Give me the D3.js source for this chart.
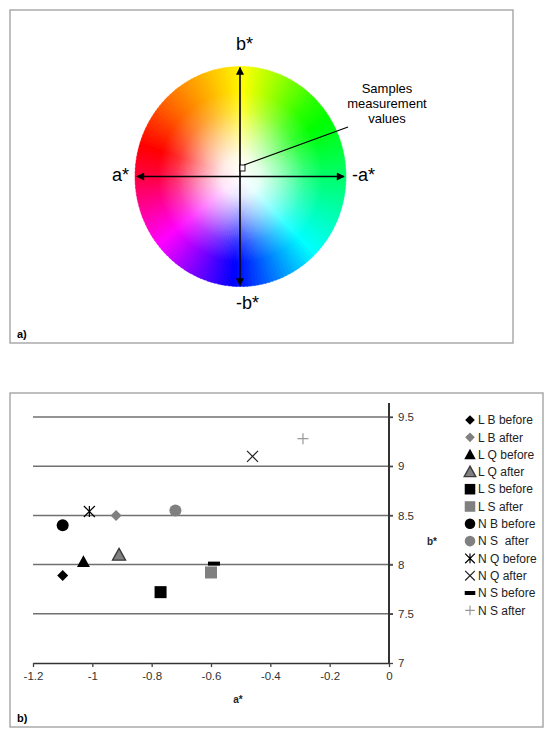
<!DOCTYPE html>
<html><head><meta charset="utf-8">
<script src="https://cdn.jsdelivr.net/npm/d3@7"></script>
<style>
body{margin:0;background:#fff}
svg{display:block;font-family:"Liberation Sans",Arial,sans-serif}
</style>
</head><body><div id="chart"></div>
<script>
// --- data ---
const seriesNames = ['L B before','L B after','L Q before','L Q after','L S before','L S after',
  'N B before','N S  after','N Q before','N Q after','N S before','N S after'];
const aValues = [-1.10,-0.92,-1.03,-0.91,-0.77,-0.60,-1.10,-0.72,-1.01,-0.46,-0.59,-0.29];
const bValues = [7.89,8.50,8.03,8.10,7.72,7.92,8.40,8.55,8.54,9.10,8.01,9.28];
const aTicks = [-1.2,-1,-0.8,-0.6,-0.4,-0.2,0];
const bTicks = [7,7.5,8,8.5,9,9.5];

// marker look per series (same order)
const GRAY = '#808080';
const markerStyle = [
  {shape:'diamond', fill:'#000'}, {shape:'diamond', fill:GRAY},
  {shape:'triangle', fill:'#000'}, {shape:'triangle', fill:GRAY, stroke:'#3a3a3a'},
  {shape:'square', fill:'#000'}, {shape:'square', fill:GRAY},
  {shape:'circle', fill:'#000'}, {shape:'circle', fill:GRAY},
  {shape:'star', stroke:'#000'}, {shape:'x', stroke:'#222'},
  {shape:'dash', fill:'#000'}, {shape:'plus', stroke:'#999'}
];

const W = 550, H = 736;
const svg = d3.select('#chart').append('svg').attr('width', W).attr('height', H);
const defs = svg.append('defs');

// ---------- panel a) colour wheel ----------
svg.append('rect').attr('x',10).attr('y',10).attr('width',503).attr('height',333)
  .attr('fill','none').attr('stroke','#aaa').attr('stroke-width',1.5);

const cx = 240.5, cy = 176.5, R = 105.5, Ry = 110;
const hue = d3.scaleLinear()
  .domain([0,45,90,135,180,225,270,315,360])
  .range([58,110,145,180,235,292,345,385,418]);

const wheel = svg.append('g').attr('transform',`translate(${cx},${cy}) scale(1,${Ry/R})`);
const arc = d3.arc().innerRadius(0).outerRadius(R);
const steps = d3.range(0,360,2);
wheel.selectAll('path.w').data(steps).enter().append('path')
  .attr('d', d => arc({startAngle:d*Math.PI/180, endAngle:(d+2.4)*Math.PI/180}))
  .attr('fill', d => d3.hsl(hue(d+1)%360,1,0.5))
  .attr('stroke', d => d3.hsl(hue(d+1)%360,1,0.5)).attr('stroke-width',0.4);

const rg = defs.append('radialGradient').attr('id','whiteCore');
[[0,1],[0.18,0.9],[0.4,0.55],[0.6,0.2],[0.78,0]].forEach(([o,a]) =>
  rg.append('stop').attr('offset',o).attr('stop-color','#fff').attr('stop-opacity',a));
wheel.append('circle').attr('r',R).attr('fill','url(#whiteCore)');

defs.append('marker').attr('id','arr').attr('viewBox','0 0 10 10').attr('refX',9).attr('refY',5)
  .attr('markerWidth',9).attr('markerHeight',8).attr('markerUnits','userSpaceOnUse')
  .attr('orient','auto-start-reverse')
  .append('path').attr('d','M0,0L10,5L0,10z').attr('fill','#000');

svg.append('line').attr('x1',cx-0.5).attr('x2',cx-0.5).attr('y1',cy-Ry+1).attr('y2',cy+Ry-1)
  .attr('stroke','#000').attr('stroke-width',1.6)
  .attr('marker-start','url(#arr)').attr('marker-end','url(#arr)');
svg.append('line').attr('x1',cx-R+2).attr('x2',cx+R-2).attr('y1',cy).attr('y2',cy)
  .attr('stroke','#000').attr('stroke-width',1.6)
  .attr('marker-start','url(#arr)').attr('marker-end','url(#arr)');

const axLab = [['b*',cx+4,50],['-b*',cx+7,309],['a*',cx-120,181],['-a*',cx+123,181]];
svg.selectAll('text.ax').data(axLab).enter().append('text')
  .attr('x',d=>d[1]).attr('y',d=>d[2]).attr('text-anchor','middle')
  .attr('font-size',18).attr('fill','#000').text(d=>d[0]);

svg.append('line').attr('x1',348).attr('y1',127).attr('x2',244).attr('y2',165)
  .attr('stroke','#000').attr('stroke-width',1.2);
svg.append('rect').attr('x',240).attr('y',165).attr('width',5).attr('height',6)
  .attr('fill','#fff').attr('stroke','#000').attr('stroke-width',0.9);
svg.append('text').attr('x',387).attr('y',93).attr('text-anchor','middle').attr('font-size',13)
  .selectAll('tspan').data(['Samples','measurement','values']).enter().append('tspan')
  .attr('x',387).attr('dy',(d,i)=>i?15:0).text(d=>d);

svg.append('text').attr('x',17).attr('y',338).attr('font-size',11).attr('font-weight','bold').text('a)');

// ---------- panel b) scatter ----------
svg.append('rect').attr('x',10).attr('y',393).attr('width',533).attr('height',334)
  .attr('fill','none').attr('stroke','#aaa').attr('stroke-width',1.5);

const x = d3.scaleLinear().domain([-1.2,0]).range([33,389]);
const y = d3.scaleLinear().domain([7,9.5]).range([663,417]);

svg.append('g').selectAll('line').data(bTicks.filter(v=>v>7)).enter().append('line')
  .attr('x1',x(-1.2)).attr('x2',x(0)+4).attr('y1',d=>y(d)).attr('y2',d=>y(d))
  .attr('stroke','#707070').attr('stroke-width',1.5);

const gx = svg.append('g').attr('transform',`translate(0,${y(7)})`)
  .call(d3.axisBottom(x).tickValues(aTicks).tickSize(4).tickSizeOuter(0).tickPadding(5).tickFormat(String));
const gy = svg.append('g').attr('transform',`translate(${x(0)},0)`)
  .call(d3.axisRight(y).tickValues(bTicks).tickSize(4).tickSizeOuter(0).tickPadding(5).tickFormat(String));
[gx,gy].forEach(g=>{
  g.selectAll('.tick line').attr('stroke','#444').attr('stroke-width',1.3);
  g.selectAll('.tick text').attr('font-size',11.5).attr('fill','#333').attr('font-family','Liberation Sans, Arial, sans-serif');
});
gx.select('.domain').attr('stroke','#333').attr('stroke-width',1.5);
gy.select('.domain').remove();
svg.append('line').attr('x1',x(0)).attr('x2',x(0)).attr('y1',y(7)+0.7).attr('y2',y(9.5)-14)
  .attr('stroke','#333').attr('stroke-width',2);

svg.append('text').attr('x',238).attr('y',703).attr('text-anchor','middle')
  .attr('font-size',10).attr('font-weight','bold').attr('fill','#222').text('a*');
svg.append('text').attr('x',432).attr('y',545).attr('text-anchor','middle')
  .attr('font-size',10).attr('font-weight','bold').attr('fill','#222').text('b*');
svg.append('text').attr('x',17).attr('y',722).attr('font-size',11).attr('font-weight','bold').text('b)');

// marker drawing
function drawMarker(g, st, s){
  const sh = st.shape;
  if(sh==='diamond'){
    g.append('path').attr('d',d3.symbol().type(d3.symbolSquare).size(s*s*0.5)).attr('transform','rotate(45)').attr('fill',st.fill);
  } else if(sh==='square'){
    g.append('path').attr('d',d3.symbol().type(d3.symbolSquare).size(s*s)).attr('fill',st.fill);
  } else if(sh==='circle'){
    g.append('path').attr('d',d3.symbol().type(d3.symbolCircle).size(Math.PI*s*s/4)).attr('fill',st.fill);
  } else if(sh==='triangle'){
    const h = s*0.9;
    g.append('path').attr('d',`M0,${-h/2-1}L${s/2+0.5},${h/2}L${-s/2-0.5},${h/2}Z`).attr('fill',st.fill)
      .attr('stroke',st.stroke||'none').attr('stroke-width',1.4);
  } else if(sh==='dash'){
    g.append('rect').attr('x',-s/2).attr('y',-2).attr('width',s).attr('height',4).attr('fill',st.fill);
  } else {
    const r = s/2, p = d3.path();
    if(sh==='x'||sh==='star'){ p.moveTo(-r,-r); p.lineTo(r,r); p.moveTo(r,-r); p.lineTo(-r,r); }
    if(sh==='star'){ p.moveTo(0,-r); p.lineTo(0,r); }
    if(sh==='plus'){ p.moveTo(-r,0); p.lineTo(r,0); p.moveTo(0,-r); p.lineTo(0,r); }
    g.append('path').attr('d',p.toString()).attr('fill','none').attr('stroke',st.stroke).attr('stroke-width',1.2);
  }
}
const markerSize = {diamond:11, square:12, circle:12, triangle:12, dash:12, x:11, star:11, plus:11};

const pts = svg.append('g');
seriesNames.forEach((n,i)=>{
  const g = pts.append('g').attr('transform',`translate(${x(aValues[i])},${y(bValues[i])})`);
  drawMarker(g, markerStyle[i], markerSize[markerStyle[i].shape]);
});

// legend
const leg = svg.append('g');
seriesNames.forEach((n,i)=>{
  const yy = 420 + i*17.3;
  const g = leg.append('g').attr('transform',`translate(470,${yy})`);
  drawMarker(g, markerStyle[i], markerSize[markerStyle[i].shape]*0.88);
  leg.append('text').attr('x',478).attr('y',yy).attr('dy','0.35em').attr('font-size',12)
    .attr('fill','#222').style('white-space','pre').text(n);
});
</script>
</body></html>
